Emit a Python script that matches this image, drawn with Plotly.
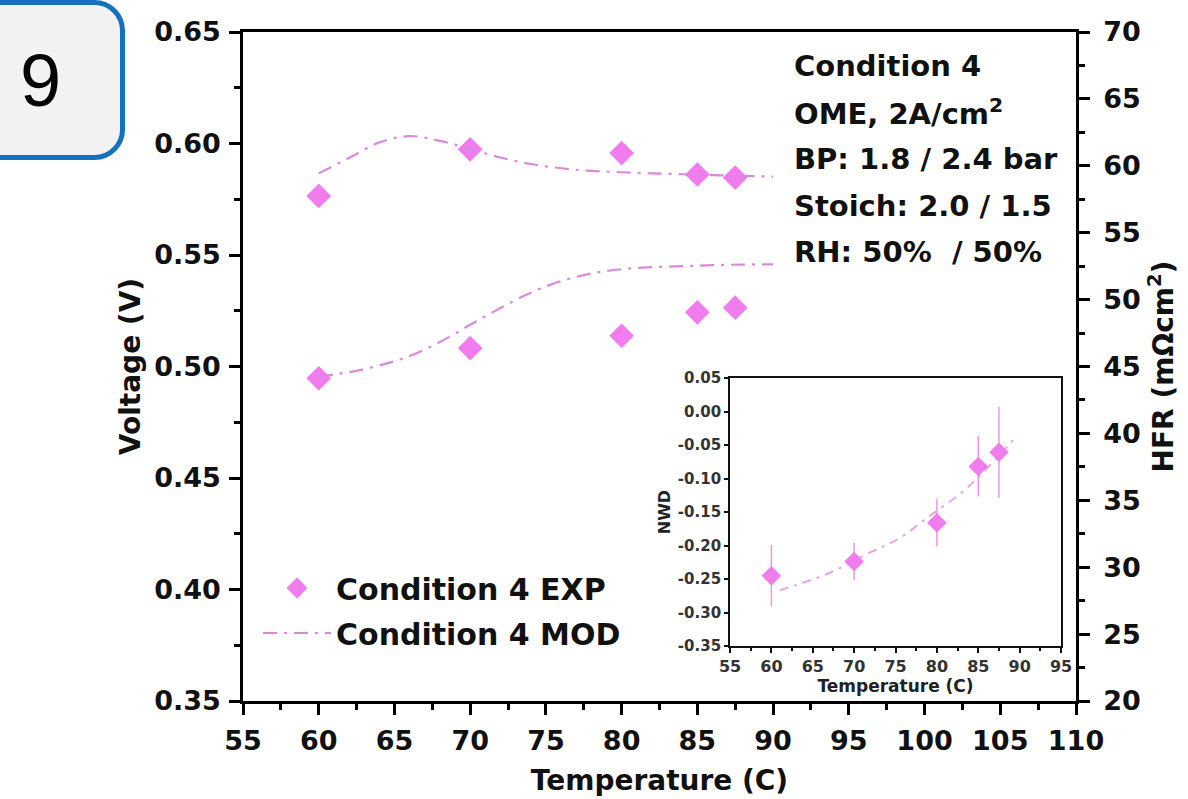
import plotly.graph_objects as go

# ---------------- data ----------------
temps = [60, 70, 80, 85, 87.5]
voltage_exp = [0.5765, 0.5974, 0.5957, 0.5861, 0.5847]
hfr_exp = [44.12, 46.37, 47.30, 49.05, 49.40]

model_T = [60, 62, 64, 66, 68, 70, 72, 74, 76, 78, 80, 82, 84, 86, 88, 90]
voltage_mod = [0.5866, 0.5935, 0.6005, 0.6033, 0.6012, 0.5975, 0.5937, 0.5908,
               0.5889, 0.5877, 0.5871, 0.5866, 0.5862, 0.5858, 0.5855, 0.5851]
hfr_mod = [44.25, 44.58, 45.08, 45.78, 46.83, 48.12, 49.37, 50.52,
           51.38, 51.95, 52.27, 52.42, 52.50, 52.57, 52.62, 52.63]

nwd_T = [60, 70, 80, 85, 87.5]
nwd_exp = [-0.245, -0.224, -0.166, -0.082, -0.061]
nwd_err = [0.046, 0.028, 0.035, 0.045, 0.068]
nwd_mod_T = [61, 63, 67, 72, 75.5, 79, 83, 85.5, 89.5]
nwd_mod = [-0.267, -0.259, -0.241, -0.21, -0.189, -0.157, -0.121, -0.092, -0.039]

x_ticks = [55, 60, 65, 70, 75, 80, 85, 90, 95, 100, 105, 110]
v_ticks = [0.35, 0.40, 0.45, 0.50, 0.55, 0.60, 0.65]
hfr_ticks = [20, 25, 30, 35, 40, 45, 50, 55, 60, 65, 70]
inset_x_ticks = [55, 60, 65, 70, 75, 80, 85, 90, 95]
inset_y_ticks = [-0.35, -0.30, -0.25, -0.20, -0.15, -0.10, -0.05, 0.00, 0.05]
inset_y_text = ["-0.35", "-0.30", "-0.25", "-0.20", "-0.15", "-0.10", "-0.05", "0.00", "0.05"]

info_lines = ["Condition 4", "OME, 2A/cm<sup>2</sup>", "BP: 1.8 / 2.4 bar",
              "Stoich: 2.0 / 1.5", "RH: 50%  / 50%"]

# ---------------- style ----------------
W, H = 1188, 799
ML, MR, MT, MB = 243, 112, 32, 98
PW, PH = W - ML - MR, H - MT - MB
MARK = "#F07CEE"
LINE = "#D98ADB"
FONT = "DejaVu Sans"


def px_x(sx):
    return (sx - ML) / PW


def px_y(sy):
    return (H - MB - sy) / PH


DASH = "14px,7px,3px,7px"

fig = go.Figure()

fig.add_trace(go.Scatter(x=temps, y=voltage_exp, mode="markers", name="Condition 4 EXP",
                         legendgroup="exp", marker=dict(symbol="diamond", size=19, color=MARK),
                         xaxis="x", yaxis="y"))
fig.add_trace(go.Scatter(x=model_T, y=voltage_mod, mode="lines", name="Condition 4 MOD",
                         legendgroup="mod", line=dict(color=LINE, width=2.2, dash=DASH, shape="spline"),
                         xaxis="x", yaxis="y"))
fig.add_trace(go.Scatter(x=temps, y=hfr_exp, mode="markers", name="Condition 4 EXP",
                         legendgroup="exp", showlegend=False,
                         marker=dict(symbol="diamond", size=19, color=MARK),
                         xaxis="x", yaxis="y2"))
fig.add_trace(go.Scatter(x=model_T, y=hfr_mod, mode="lines", name="Condition 4 MOD",
                         legendgroup="mod", showlegend=False,
                         line=dict(color=LINE, width=2.2, dash=DASH, shape="spline"),
                         xaxis="x", yaxis="y2"))

# inset
fig.add_trace(go.Scatter(x=nwd_mod_T, y=nwd_mod, mode="lines", showlegend=False,
                         line=dict(color="#E6A6E6", width=2, dash="9px,6px,3px,6px", shape="spline"),
                         xaxis="x3", yaxis="y3"))
fig.add_trace(go.Scatter(x=nwd_T, y=nwd_exp, mode="markers", showlegend=False,
                         marker=dict(symbol="diamond", size=15, color=MARK),
                         error_y=dict(type="data", array=nwd_err, color="#E89AE8",
                                      thickness=1.5, width=0),
                         xaxis="x3", yaxis="y3"))

axis_common = dict(showline=True, linecolor="black", linewidth=2.5, ticks="outside",
                   tickcolor="black", tickwidth=2.5, ticklen=11, showgrid=False, zeroline=False,
                   tickfont=dict(family=FONT, size=27, color="#111", weight="bold"))

fig.update_layout(
    width=W, height=H,
    margin=dict(l=ML, r=MR, t=MT, b=MB, autoexpand=False),
    paper_bgcolor="white", plot_bgcolor="white",
    xaxis=dict(range=[55, 110], tickvals=x_ticks, mirror=True, ticklabelstandoff=3,
               minor=dict(dtick=2.5, ticklen=6, tickwidth=2.5, tickcolor="black", ticks="outside"),
               title=dict(text="Temperature (C)", standoff=16,
                          font=dict(family=FONT, size=28, color="#111", weight="bold")),
               **axis_common),
    yaxis=dict(range=[0.35, 0.65], tickvals=v_ticks, tickformat=".2f", ticklabelstandoff=3,
               minor=dict(dtick=0.025, ticklen=6, tickwidth=2.5, tickcolor="black", ticks="outside"),
               title=dict(text="Voltage (V)", standoff=6,
                          font=dict(family=FONT, size=28, color="#111", weight="bold")),
               **axis_common),
    yaxis2=dict(range=[20, 70], tickvals=hfr_ticks, overlaying="y", side="right", anchor="x",
                ticklabelstandoff=8,
                minor=dict(dtick=2.5, ticklen=6, tickwidth=2.5, tickcolor="black", ticks="outside"),
                title=dict(text="HFR (mΩcm<sup>2</sup>)", standoff=14,
                           font=dict(family=FONT, size=28, color="#111", weight="bold")),
                **axis_common),
    xaxis3=dict(domain=[px_x(730), px_x(1061)], anchor="y3", range=[55, 95], tickvals=inset_x_ticks,
                showline=True, mirror=True, linecolor="#111", linewidth=1.8, ticks="outside",
                tickcolor="#111", tickwidth=1.5, ticklen=5, showgrid=False, zeroline=False,
                minor=dict(dtick=2.5, ticklen=3, tickwidth=1.5, tickcolor="#111", ticks="outside"),
                tickfont=dict(family=FONT, size=16, color="#333", weight="bold"),
                title=dict(text="Temperature (C)", standoff=0,
                           font=dict(family=FONT, size=17, color="#222", weight="bold"))),
    yaxis3=dict(domain=[px_y(646), px_y(378)], anchor="x3", range=[-0.35, 0.05],
                tickvals=inset_y_ticks, ticktext=inset_y_text,
                showline=True, mirror=True, linecolor="#111", linewidth=1.8, ticks="outside",
                tickcolor="#111", tickwidth=1.5, ticklen=4, showgrid=False, zeroline=False,
                tickfont=dict(family=FONT, size=15, color="#333", weight="bold"),
                title=dict(text="NWD", standoff=3,
                           font=dict(family=FONT, size=16, color="#222", weight="bold"))),
    legend=dict(x=px_x(258), y=px_y(562), xanchor="left", yanchor="top",
                bgcolor="rgba(0,0,0,0)", itemwidth=68, tracegroupgap=3,
                font=dict(family=FONT, size=30, color="#111", weight="bold")),
    showlegend=True,
)

# inset background
fig.add_shape(type="rect", xref="paper", yref="paper", x0=px_x(730), x1=px_x(1061),
              y0=px_y(646), y1=px_y(378), fillcolor="white", line=dict(width=0), layer="below")

# info text block
for i, t in enumerate(info_lines):
    fig.add_annotation(xref="paper", yref="paper", x=px_x(792), y=px_y(66 + 46.5 * i),
                       xanchor="left", yanchor="middle", showarrow=False, text=t,
                       font=dict(family=FONT, size=29, color="#111", weight="bold"))

# rounded "9" badge in the top-left corner (pixel geometry)
bx0, bx1, by0, by1, r = -30, 122.5, 2.5, 157.5, 28
k = 0.5523 * r
path = (f"M {px_x(bx0)},{px_y(by0)} L {px_x(bx1 - r)},{px_y(by0)} "
        f"C {px_x(bx1 - r + k)},{px_y(by0)} {px_x(bx1)},{px_y(by0 + r - k)} {px_x(bx1)},{px_y(by0 + r)} "
        f"L {px_x(bx1)},{px_y(by1 - r)} "
        f"C {px_x(bx1)},{px_y(by1 - r + k)} {px_x(bx1 - r + k)},{px_y(by1)} {px_x(bx1 - r)},{px_y(by1)} "
        f"L {px_x(bx0)},{px_y(by1)} Z")
fig.add_shape(type="path", xref="paper", yref="paper", path=path,
              fillcolor="#F2F2F2", line=dict(color="#1570C0", width=5))
fig.add_annotation(xref="paper", yref="paper", x=px_x(40), y=px_y(80), showarrow=False,
                   text="9", xanchor="center", yanchor="middle",
                   font=dict(family="Liberation Sans", size=74, color="black"))

fig.write_html("out.html", config={"displayModeBar": False},
               post_script="document.body.style.margin='0';document.body.style.overflow='hidden';")
